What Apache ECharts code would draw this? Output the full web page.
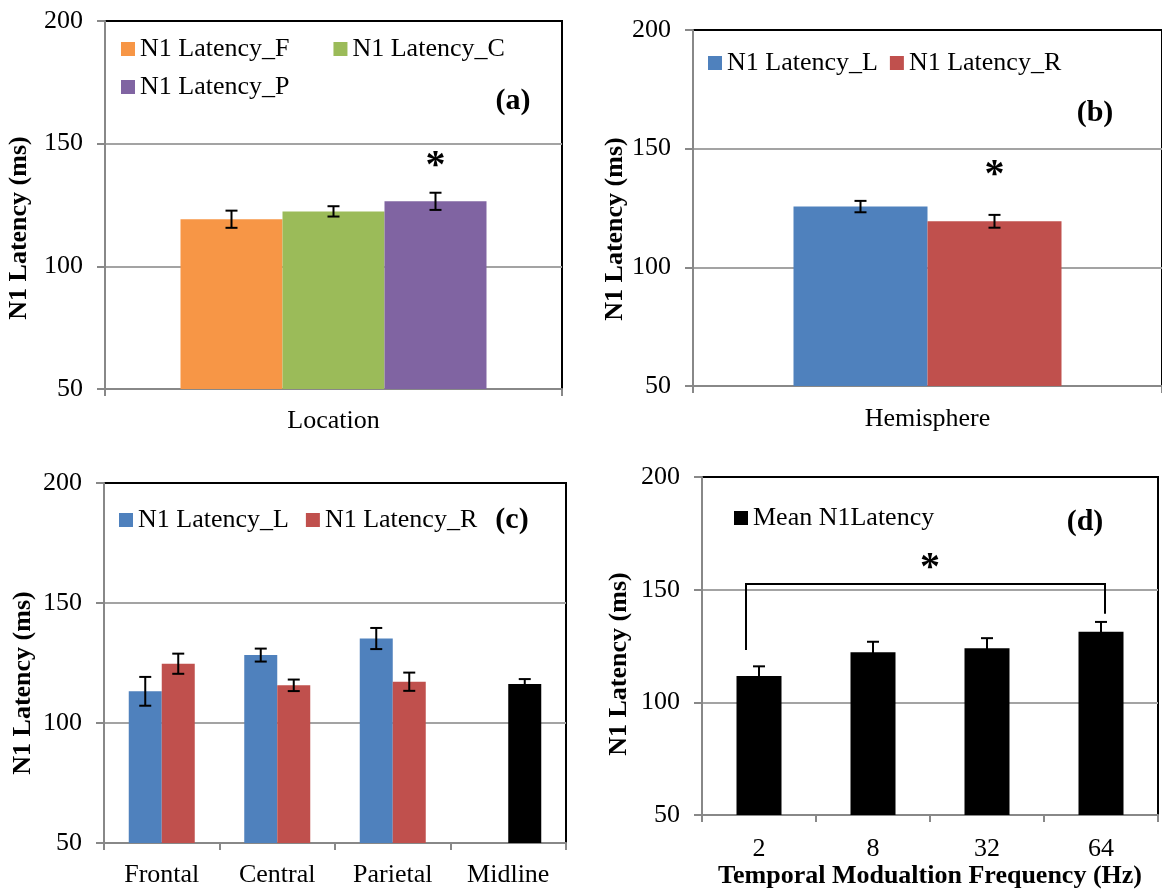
<!DOCTYPE html>
<html><head><meta charset="utf-8">
<script src="https://cdn.jsdelivr.net/npm/echarts@6/dist/echarts.min.js"></script>
<style>html,body{margin:0;padding:0;background:#fff}#c{width:1162px;height:890px}</style>
</head><body><div id="c"></div>
<script>
// ---------- data ----------
const catsA = ['Location'];
const latA_F = [119.2], latA_C = [122.4], latA_P = [126.5];
const errA_F = [3.5], errA_C = [2.1], errA_P = [3.5];
const starA_P = [144];           // asterisk position (value) above P

const catsB = ['Hemisphere'];
const latB_L = [125.6], latB_R = [119.4];
const errB_L = [2.4], errB_R = [2.7];
const starB_R = [141.8];

const catsC = ['Frontal', 'Central', 'Parietal', 'Midline'];
const latC_L = [113.2, 128.3, 135.2, null];
const latC_R = [124.7, 115.7, 117.2];
const latC_Mid = 116.3;
const errC_L = [6.0, 2.7, 4.4, null];
const errC_R = [4.2, 2.4, 3.8];
const errC_Mid = 2.0;

const catsD = ['2', '8', '32', '64'];
const latD = [111.7, 122.2, 124.0, 131.3];
const errD = [4.3, 4.7, 4.5, 4.4];
const bracketD = [0, 3, 152.5, 123.2, 139.3, 162.7]; // from, to, top, fromEnd, toEnd, star

const yTicks = [50, 200, 50]; // min, max, interval

// ---------- style ----------
const FONT = '"Liberation Serif", "Times New Roman", serif';
const COL = {F:'#F79646', C:'#9BBB59', P:'#8064A2', L:'#4F81BD', R:'#C0504D', K:'#000000'};
const BW = {a:102, b:134, c:33, d:45};
const AX = '#888888', GRIDC = '#a3a3a3';

function yAxis(gi, gap, shift) {
  return {
    type:'value', gridIndex:gi, min:yTicks[0], max:yTicks[1], interval:yTicks[2],
    name:'N1 Latency (ms)', nameLocation:'middle', nameGap:gap, nameRotate:90,
    nameTextStyle:{fontFamily:FONT, fontSize:26, fontWeight:'bold', color:'#000', padding:[0, shift, 0, 0]},
    axisLine:{show:true, lineStyle:{color:AX, width:2}},
    axisTick:{show:true, inside:false, length:8, lineStyle:{color:AX, width:2}},
    axisLabel:{margin:22, fontFamily:FONT, fontSize:26, color:'#000'},
    splitLine:{show:true, showMinLine:false, showMaxLine:false, lineStyle:{color:GRIDC, width:2}}
  };
}
function xAxis(gi, cats, margin, extra) {
  return Object.assign({
    type:'category', gridIndex:gi, data:cats,
    axisLine:{show:true, lineStyle:{color:AX, width:2}},
    axisTick:{show:true, inside:false, length:7, interval:0, alignWithLabel:false, lineStyle:{color:AX, width:2}},
    axisLabel:{margin:margin, interval:0, fontFamily:FONT, fontSize:26, color:'#000'},
    splitLine:{show:false}
  }, extra || {});
}
function bar(gi, name, data, color, bw) {
  return {type:'bar', name:name, xAxisIndex:gi, yAxisIndex:gi, data:data, barWidth:bw, barGap:'0%',
    itemStyle:{color:color}, emphasis:{disabled:true}, silent:true, z:2};
}
// error bars (+ optional asterisk), shifted to the bar slot
function errSeries(gi, means, errs, shift, stars) {
  const data = [];
  means.forEach((m, i) => { if (m != null && errs[i] != null) data.push([i, m, errs[i], stars ? (stars[i] || 0) : 0]); });
  return {
    type:'custom', xAxisIndex:gi, yAxisIndex:gi, z:10, silent:true, data:data, encode:{x:0, y:1},
    renderItem(params, api) {
      const i = api.value(0), m = api.value(1), e = api.value(2), s = api.value(3);
      const top = api.coord([i, m + e]), bot = api.coord([i, m - e]);
      const cx = top[0] + shift, cap = 6;
      const ls = {stroke:'#000', lineWidth:2};
      const ch = [
        {type:'line', shape:{x1:cx, y1:top[1], x2:cx, y2:bot[1]}, style:ls},
        {type:'line', shape:{x1:cx - cap, y1:top[1], x2:cx + cap, y2:top[1]}, style:ls},
        {type:'line', shape:{x1:cx - cap, y1:bot[1], x2:cx + cap, y2:bot[1]}, style:ls}
      ];
      if (s) {
        const p = api.coord([i, s]);
        ch.push({type:'text', style:{text:'*', x:cx, y:p[1] + 8, fill:'#000',
          font:'bold 40px ' + FONT, align:'center', verticalAlign:'middle'}});
      }
      return {type:'group', children:ch};
    }
  };
}
function bracketSeries(gi, b) {
  return {
    type:'custom', xAxisIndex:gi, yAxisIndex:gi, z:10, silent:true, data:[[b[0], b[2]]], encode:{x:0, y:1},
    renderItem(params, api) {
      const ls = {stroke:'#000', lineWidth:2, fill:null};
      const a0 = api.coord([b[0], b[3]]), aT = api.coord([b[0], b[2]]);
      const b0 = api.coord([b[1], b[4]]);
      const xl = a0[0] - 13, xr = b0[0] + 4;
      const st = api.coord([b[0], b[5]]);
      return {type:'group', children:[
        {type:'polyline', shape:{points:[[xl, a0[1]], [xl, aT[1]], [xr, aT[1]], [xr, b0[1]]]}, style:ls},
        {type:'text', style:{text:'*', x:(a0[0] + b0[0]) / 2, y:st[1] + 8, fill:'#000',
          font:'bold 40px ' + FONT, align:'center', verticalAlign:'middle'}}
      ]};
    }
  };
}
function legend(names, left, top, gap) {
  return {data:names, left:left, top:top, orient:'horizontal', itemWidth:14, itemHeight:14, itemGap:gap,
    icon:'rect', selectedMode:false, padding:0,
    textStyle:{fontFamily:FONT, fontSize:26, color:'#000'}};
}
function panelLabel(text, x, y) {
  return {type:'text', x:x, y:y, style:{text:text, fill:'#000', font:'bold 30px ' + FONT,
    align:'center', verticalAlign:'middle'}};
}

const gridBase = {show:true, borderColor:'#000', borderWidth:2, backgroundColor:'rgba(0,0,0,0)'};
const option = {
  animation:false,
  backgroundColor:'#ffffff',
  grid:[
    Object.assign({left:105, top:21, width:457, height:368}, gridBase),
    Object.assign({left:693, top:30, width:470, height:356}, gridBase),
    Object.assign({left:104, top:483, width:462, height:360}, gridBase),
    Object.assign({left:702, top:477, width:456, height:342}, gridBase)
  ],
  xAxis:[
    xAxis(0, catsA, 19),
    xAxis(1, catsB, 20),
    xAxis(2, catsC, 19),
    xAxis(3, catsD, 21, {name:'Temporal Modualtion Frequency (Hz)', nameLocation:'middle', nameGap:43,
      nameTextStyle:{fontFamily:FONT, fontSize:26, fontWeight:'bold', color:'#000'}})
  ],
  yAxis:[yAxis(0, 73, 46), yAxis(1, 65, 42), yAxis(2, 68, 40), yAxis(3, 70, 36)],
  legend:[
    legend(['N1 Latency_F', 'N1 Latency_C'], 121, 36, 44),
    legend(['N1 Latency_P'], 121, 74, 44),
    legend(['N1 Latency_L', 'N1 Latency_R'], 708, 50, 12),
    legend(['N1 Latency_L', 'N1 Latency_R'], 119, 507, 17),
    legend(['Mean N1Latency'], 734, 505, 10)
  ],
  graphic:[
    panelLabel('(a)', 513, 101),
    panelLabel('(b)', 1095, 113),
    panelLabel('(c)', 512, 520),
    panelLabel('(d)', 1085, 522)
  ],
  series:[
    bar(0, 'N1 Latency_F', latA_F, COL.F, BW.a),
    bar(0, 'N1 Latency_C', latA_C, COL.C, BW.a),
    bar(0, 'N1 Latency_P', latA_P, COL.P, BW.a),
    errSeries(0, latA_F, errA_F, -BW.a),
    errSeries(0, latA_C, errA_C, 0),
    errSeries(0, latA_P, errA_P, BW.a, starA_P),

    bar(1, 'N1 Latency_L', latB_L, COL.L, BW.b),
    bar(1, 'N1 Latency_R', latB_R, COL.R, BW.b),
    errSeries(1, latB_L, errB_L, -BW.b / 2),
    errSeries(1, latB_R, errB_R, BW.b / 2, starB_R),

    bar(2, 'N1 Latency_L', latC_L.map(v => v == null ? '-' : v), COL.L, BW.c),
    bar(2, 'N1 Latency_R', latC_R.concat([{value:latC_Mid, itemStyle:{color:COL.K}}]), COL.R, BW.c),
    errSeries(2, latC_L, errC_L, -BW.c / 2),
    errSeries(2, latC_R.concat([latC_Mid]), errC_R.concat([errC_Mid]), BW.c / 2),

    bar(3, 'Mean N1Latency', latD, COL.K, BW.d),
    errSeries(3, latD, errD, 0),
    bracketSeries(3, bracketD)
  ]
};
const chart = echarts.init(document.getElementById('c'), null, {renderer:'canvas'});
chart.setOption(option);
</script>
</body></html>
